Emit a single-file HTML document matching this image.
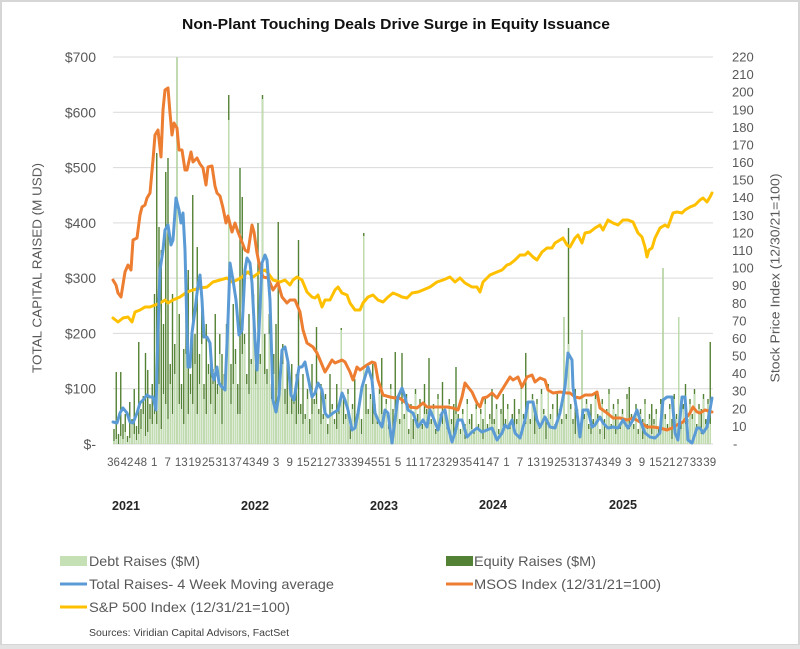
<!DOCTYPE html>
<html><head><meta charset="utf-8"><style>html,body{margin:0;padding:0;background:#fff}svg{display:block}text{font-family:"Liberation Sans",Arial,sans-serif}</style></head>
<body>
<svg width="800" height="649" viewBox="0 0 800 649" xmlns="http://www.w3.org/2000/svg">
<rect x="0" y="0" width="800" height="649" fill="#fff"/>
<rect x="1" y="1" width="798" height="644" fill="none" stroke="#d6d6d6" stroke-width="2"/>
<rect x="0" y="645" width="800" height="4" fill="#e3e3e3"/>
<text x="396" y="29" text-anchor="middle" font-size="15" font-weight="bold" fill="#111" textLength="428" lengthAdjust="spacingAndGlyphs">Non-Plant Touching Deals Drive Surge in Equity Issuance</text>
<g stroke="#d9d9d9" stroke-width="1">
<line x1="113" y1="57" x2="713" y2="57"/><line x1="113" y1="112.3" x2="713" y2="112.3"/><line x1="113" y1="167.6" x2="713" y2="167.6"/><line x1="113" y1="222.9" x2="713" y2="222.9"/><line x1="113" y1="278.1" x2="713" y2="278.1"/><line x1="113" y1="333.4" x2="713" y2="333.4"/><line x1="113" y1="388.7" x2="713" y2="388.7"/><line x1="113" y1="444" x2="713" y2="444"/>
</g>
<path fill="none" stroke="#548235" stroke-width="1.4" d="M114 444v-15m2.25 15v-72m2.25 72v-10m2.25 10v-72m2.25 72v-20m2.25 20v-30m2.25 30v-8m2.25 8v-42m2.25 42v-25m2.25 25v-55m2.25 55v-18m2.25 18v-102m2.25 102v-35m2.25 35v-48m2.25 48v-91m2.25 91v-74m2.25 74v-40m2.25 40v-60m2.25 60v-150m2.25 150v-291m2.25 291v-217m2.25 217v-194m2.25 194v-120m2.25 120v-272m2.25 272v-286m2.25 286v-80m2.25 80v-150m2.25 150v-100m2.25 100v-387m2.25 387v-130m2.25 130v-60m2.25 60v-95m2.25 95v-140m2.25 140v-174m2.25 174v-70m2.25 70v-249m2.25 249v-110m2.25 110v-197m2.25 197v-90m2.25 90v-150m2.25 150v-60m2.25 60v-120m2.25 120v-80m2.25 80v-100m2.25 100v-75m2.25 75v-130m2.25 130v-60m2.25 60v-110m2.25 110v-90m2.25 90v-70m2.25 70v-120m2.25 120v-349m2.25 349v-80m2.25 80v-140m2.25 140v-95m2.25 95v-60m2.25 60v-276m2.25 276v-247m2.25 247v-110m2.25 110v-70m2.25 70v-130m2.25 130v-85m2.25 85v-150m2.25 150v-100m2.25 100v-221m2.25 221v-90m2.25 90v-349m2.25 349v-110m2.25 110v-75m2.25 75v-130m2.25 130v-60m2.25 60v-90m2.25 90v-120m2.25 120v-222m2.25 222v-70m2.25 70v-100m2.25 100v-55m2.25 55v-90m2.25 90v-65m2.25 65v-80m2.25 80v-50m2.25 50v-70m2.25 70v-204m2.25 204v-40m2.25 40v-70m2.25 70v-30m2.25 30v-55m2.25 55v-25m2.25 25v-80m2.25 80v-45m2.25 45v-117m2.25 117v-35m2.25 35v-60m2.25 60v-30m2.25 30v-50m2.25 50v-20m2.25 20v-70m2.25 70v-40m2.25 40v-25m2.25 25v-60m2.25 60v-35m2.25 35v-116m2.25 116v-45m2.25 45v-30m2.25 30v-55m2.25 55v-20m2.25 20v-40m2.25 40v-65m2.25 65v-30m2.25 30v-45m2.25 45v-25m2.25 25v-211m2.25 211v-60m2.25 60v-35m2.25 35v-50m2.25 50v-80m2.25 80v-40m2.25 40v-25m2.25 25v-55m2.25 55v-86m2.25 86v-30m2.25 30v-45m2.25 45v-20m2.25 20v-60m2.25 60v-35m2.25 35v-92m2.25 92v-40m2.25 40v-25m2.25 25v-91m2.25 91v-30m2.25 30v-50m2.25 50v-15m2.25 15v-40m2.25 40v-25m2.25 25v-55m2.25 55v-30m2.25 30v-45m2.25 45v-20m2.25 20v-60m2.25 60v-35m2.25 35v-86m2.25 86v-25m2.25 25v-40m2.25 40v-15m2.25 15v-50m2.25 50v-30m2.25 30v-62m2.25 62v-35m2.25 35v-20m2.25 20v-45m2.25 45v-25m2.25 25v-40m2.25 40v-77m2.25 77v-30m2.25 30v-15m2.25 15v-35m2.25 35v-20m2.25 20v-45m2.25 45v-25m2.25 25v-30m2.25 30v-15m2.25 15v-40m2.25 40v-20m2.25 20v-35m2.25 35v-25m2.25 25v-45m2.25 45v-20m2.25 20v-30m2.25 30v-55m2.25 55v-25m2.25 25v-40m2.25 40v-15m2.25 15v-35m2.25 35v-50m2.25 50v-25m2.25 25v-40m2.25 40v-20m2.25 20v-30m2.25 30v-45m2.25 45v-25m2.25 25v-35m2.25 35v-60m2.25 60v-30m2.25 30v-91m2.25 91v-40m2.25 40v-25m2.25 25v-50m2.25 50v-30m2.25 30v-45m2.25 45v-20m2.25 20v-55m2.25 55v-35m2.25 35v-25m2.25 25v-60m2.25 60v-30m2.25 30v-40m2.25 40v-20m2.25 20v-50m2.25 50v-35m2.25 35v-25m2.25 25v-127m2.25 127v-30m2.25 30v-216m2.25 216v-40m2.25 40v-25m2.25 25v-55m2.25 55v-35m2.25 35v-20m2.25 20v-114m2.25 114v-30m2.25 30v-45m2.25 45v-20m2.25 20v-40m2.25 40v-25m2.25 25v-50m2.25 50v-30m2.25 30v-15m2.25 15v-45m2.25 45v-25m2.25 25v-35m2.25 35v-55m2.25 55v-20m2.25 20v-40m2.25 40v-30m2.25 30v-45m2.25 45v-20m2.25 20v-35m2.25 35v-25m2.25 25v-50m2.25 50v-57m2.25 57v-30m2.25 30v-20m2.25 20v-40m2.25 40v-15m2.25 15v-35m2.25 35v-25m2.25 25v-45m2.25 45v-20m2.25 20v-30m2.25 30v-40m2.25 40v-25m2.25 25v-35m2.25 35v-15m2.25 15v-45m2.25 45v-176m2.25 176v-30m2.25 30v-20m2.25 20v-40m2.25 40v-25m2.25 25v-50m2.25 50v-30m2.25 30v-127m2.25 127v-20m2.25 20v-40m2.25 40v-60m2.25 60v-25m2.25 25v-45m2.25 45v-30m2.25 30v-55m2.25 55v-20m2.25 20v-40m2.25 40v-35m2.25 35v-50m2.25 50v-25m2.25 25v-45m2.25 45v-102"/>
<path fill="none" stroke="#c5e0b4" stroke-width="1.4" d="M114 444v-3m2.25 3v-5m2.25 5m2.25 0v-8m2.25 8v-5m2.25 5v-12m2.25 12v-2m2.25 2v-6m2.25 6v-20m2.25 20v-10m2.25 10v-4m2.25 4v-10m2.25 10v-15m2.25 15v-30m2.25 30v-8m2.25 8v-12m2.25 12v-25m2.25 25v-20m2.25 20v-30m2.25 30v-20m2.25 20v-60m2.25 60v-15m2.25 15v-50m2.25 50v-40m2.25 40v-25m2.25 25v-60m2.25 60v-30m2.25 30v-70m2.25 70v-387m2.25 387v-40m2.25 40v-35m2.25 35v-20m2.25 20v-90m2.25 90v-30m2.25 30v-50m2.25 50v-40m2.25 40v-80m2.25 80v-30m2.25 30v-60m2.25 60v-100m2.25 100v-45m2.25 45v-30m2.25 30v-70m2.25 70v-40m2.25 40v-60m2.25 60v-30m2.25 30v-50m2.25 50v-90m2.25 90v-20m2.25 20v-55m2.25 55v-100m2.25 100v-324m2.25 324v-40m2.25 40v-60m2.25 60v-80m2.25 80v-30m2.25 30v-30m2.25 30v-90m2.25 90v-100m2.25 100v-60m2.25 60v-50m2.25 50v-80m2.25 80v-120m2.25 120v-60m2.25 60v-90m2.25 90v-80m2.25 80v-345m2.25 345v-70m2.25 70v-60m2.25 60v-110m2.25 110v-45m2.25 45v-70m2.25 70v-40m2.25 40v-50m2.25 50v-55m2.25 55v-80m2.25 80v-40m2.25 40v-30m2.25 30v-55m2.25 55v-30m2.25 30v-40m2.25 40v-20m2.25 20v-30m2.25 30v-30m2.25 30v-20m2.25 20v-25m2.25 25v-45m2.25 45v-10m2.25 10v-30m2.25 30v-40m2.25 40v-40m2.25 40v-30m2.25 30v-20m2.25 20v-25m2.25 25v-45m2.25 45v-10m2.25 10v-30m2.25 30v-35m2.25 35v-20m2.25 20v-15m2.25 15v-30m2.25 30v-114m2.25 114v-20m2.25 20v-25m2.25 25v-50m2.25 50v-5m2.25 5v-35m2.25 35v-15m2.25 15v-25m2.25 25v-40m2.25 40v-10m2.25 10v-208m2.25 208v-30m2.25 30v-30m2.25 30v-45m2.25 45v-20m2.25 20v-35m2.25 35v-20m2.25 20v-50m2.25 50v-30m2.25 30v-25m2.25 25v-40m2.25 40v-15m2.25 15v-55m2.25 55v-10m2.25 10v-20m2.25 20v-35m2.25 35v-20m2.25 20v-40m2.25 40v-25m2.25 25v-45m2.25 45v-10m2.25 10v-35m2.25 35v-5m2.25 5v-50m2.25 50v-20m2.25 20v-40m2.25 40v-15m2.25 15v-30m2.25 30v-30m2.25 30v-20m2.25 20v-20m2.25 20v-35m2.25 35v-10m2.25 10v-45m2.25 45v-25m2.25 25v-20m2.25 20v-30m2.25 30v-15m2.25 15v-40m2.25 40v-20m2.25 20v-10m2.25 10v-30m2.25 30v-25m2.25 25v-10m2.25 10v-30m2.25 30v-5m2.25 5v-40m2.25 40v-20m2.25 20v-15m2.25 15v-10m2.25 10v-35m2.25 35v-15m2.25 15v-30m2.25 30v-5m2.25 5v-40m2.25 40v-15m2.25 15v-25m2.25 25v-20m2.25 20v-20m2.25 20v-35m2.25 35v-10m2.25 10v-30m2.25 30v-15m2.25 15v-20m2.25 20v-35m2.25 35v-15m2.25 15v-25m2.25 25v-10m2.25 10v-20m2.25 20v-30m2.25 30v-55m2.25 55v-25m2.25 25v-20m2.25 20v-35m2.25 35v-20m2.25 20v-45m2.25 45v-10m2.25 10v-40m2.25 40v-15m2.25 15v-50m2.25 50v-30m2.25 30v-5m2.25 5v-55m2.25 55v-25m2.25 25v-35m2.25 35v-15m2.25 15v-20m2.25 20v-30m2.25 30v-20m2.25 20v-127m2.25 127v-25m2.25 25v-100m2.25 100v-35m2.25 35v-20m2.25 20v-10m2.25 10v-30m2.25 30v-15m2.25 15v-114m2.25 114v-25m2.25 25v-40m2.25 40v-15m2.25 15v-10m2.25 10v-20m2.25 20v-45m2.25 45v-25m2.25 25v-10m2.25 10v-40m2.25 40v-5m2.25 5v-30m2.25 30v-50m2.25 50v-15m2.25 15v-35m2.25 35v-10m2.25 10v-40m2.25 40v-15m2.25 15v-30m2.25 30v-20m2.25 20v-45m2.25 45v-15m2.25 15v-25m2.25 25v-15m2.25 15v-35m2.25 35v-10m2.25 10v-30m2.25 30v-5m2.25 5v-40m2.25 40v-15m2.25 15v-25m2.25 25v-10m2.25 10v-20m2.25 20v-30m2.25 30v-10m2.25 10v-40m2.25 40v-176m2.25 176v-25m2.25 25v-15m2.25 15v-35m2.25 35v-5m2.25 5v-45m2.25 45v-25m2.25 25v-127m2.25 127v-15m2.25 15v-35m2.25 35v-20m2.25 20v-20m2.25 20v-40m2.25 40v-25m2.25 25v-50m2.25 50v-15m2.25 15v-35m2.25 35v-10m2.25 10v-45m2.25 45v-20m2.25 20v-40m2.25 40v-20"/>
<g fill="none" stroke-width="3" stroke-linejoin="round" stroke-linecap="round">
<polyline stroke="#ffc000" points="113,318 118,322 123,318 128,317 132,322 135,312 140,310 145,307 150,307 155,305 160,303 165,300 168,303 173,300 180,297 187,292 193,290 200,288 207,287 213,282 220,280 227,278 232,282 237,280 242,277 248,272 253,277 260,272 265,270 268,273 273,280 280,282 285,280 290,285 293,280 297,277 302,280 307,292 312,297 315,298 318,295 322,307 325,300 330,300 335,290 338,287 342,293 347,295 350,303 355,310 360,310 363,303 368,297 373,295 378,300 383,302 388,297 393,293 398,295 402,297 407,298 412,293 418,292 423,290 430,287 437,282 443,280 450,277 455,282 460,278 465,283 472,287 477,287 480,292 483,282 490,275 497,272 502,270 507,265 510,264 515,260 520,255 525,255 528,252 533,257 537,260 542,252 547,248 552,248 555,243 560,240 563,238 567,245 570,247 575,238 578,235 582,243 585,233 590,232 595,228 600,225 603,230 608,220 613,223 618,225 623,220 628,220 633,222 638,233 642,237 645,247 647,257 649,250 652,248 655,238 660,228 665,225 668,227 673,213 677,212 682,213 685,210 690,207 695,205 700,200 703,198 707,202 710,197 712,193"/>
<polyline stroke="#ed7d31" points="113,280 116,285 118,293 121,297 125,272 128,265 131,270 133,240 137,238 140,215 142,207 145,205 147,198 150,193 153,160 155,135 158,130 161,157 163,110 165,90 168,88 170,113 172,135 174,123 177,128 179,150 182,150 185,170 187,170 191,152 193,162 197,158 200,164 203,168 206,185 208,167 212,166 215,186 217,193 220,196 223,208 226,223 228,216 232,232 235,223 238,232 242,242 245,250 248,252 252,225 254,232 257,253 260,268 263,277 268,278 273,290 278,283 282,297 287,303 290,300 295,300 300,312 303,330 307,343 313,347 317,353 320,360 325,372 328,367 332,360 335,363 342,360 345,362 350,372 353,380 357,367 360,370 367,365 372,362 375,363 378,380 383,395 390,397 395,398 398,397 405,402 410,407 417,408 423,403 427,407 433,407 440,407 447,407 453,408 458,410 462,397 465,383 468,387 472,392 477,403 480,407 483,398 487,397 492,393 497,398 500,393 505,385 510,377 513,380 518,377 522,387 527,377 532,375 535,382 540,378 545,380 548,390 553,393 560,392 567,393 570,393 575,397 580,398 585,395 592,395 597,392 600,408 607,413 613,418 620,418 627,420 633,418 640,422 647,427 653,427 660,428 667,430 672,428 677,425 683,422 690,413 693,407 697,412 700,413 705,410 712,412"/>
<polyline stroke="#5b9bd5" points="113,422 117,423 120,413 123,408 127,413 130,422 133,423 137,413 140,403 143,400 147,395 150,397 153,397 156,410 158,330 160,270 163,250 165,230 168,225 171,245 173,240 176,198 179,210 181,223 183,213 185,250 187,330 188,367 190,367 192,333 195,310 198,285 200,275 202,300 204,337 207,337 210,343 212,373 214,380 217,367 219,383 222,387 225,390 228,320 230,263 233,280 236,300 239,335 242,330 245,270 247,258 250,263 252,283 255,340 257,370 259,330 262,263 265,255 267,260 270,300 273,400 276,412 279,395 282,350 285,347 288,362 291,395 294,400 297,380 299,367 302,367 305,362 308,377 312,397 315,393 318,383 322,390 325,413 328,417 333,413 338,410 342,393 345,400 348,410 352,430 355,428 358,413 362,387 365,377 368,367 372,380 375,413 378,420 382,427 385,410 388,413 392,443 395,420 398,397 402,388 405,397 408,410 413,413 418,427 423,420 427,427 430,410 433,417 438,430 442,413 445,410 448,427 452,442 455,433 458,420 462,420 467,437 472,432 477,428 482,432 487,430 492,428 497,440 502,433 505,425 508,428 512,420 515,433 520,438 525,420 528,402 533,402 537,420 540,427 545,417 550,427 555,428 560,413 565,387 568,353 572,360 573,387 577,413 580,437 583,410 588,410 592,427 595,425 600,417 603,423 608,428 613,427 618,428 623,420 628,428 633,420 637,410 640,420 645,433 650,437 655,438 660,433 663,400 667,397 672,397 675,433 678,440 682,397 685,397 688,440 692,443 697,428 700,428 703,433 707,427 712,398"/>
</g>
<g font-size="14" fill="#595959" text-anchor="end">
<text x="96" y="62">$700</text><text x="96" y="117.3">$600</text><text x="96" y="172.6">$500</text><text x="96" y="227.9">$400</text><text x="96" y="283.1">$300</text><text x="96" y="338.4">$200</text><text x="96" y="393.7">$100</text><text x="96" y="449">$-</text>
</g>
<g font-size="13" fill="#595959">
<text x="732" y="61.5">220</text><text x="732" y="79.1">210</text><text x="732" y="96.7">200</text><text x="732" y="114.3">190</text><text x="732" y="131.9">180</text><text x="732" y="149.5">170</text><text x="732" y="167.1">160</text><text x="732" y="184.7">150</text><text x="732" y="202.2">140</text><text x="732" y="219.8">130</text><text x="732" y="237.4">120</text><text x="732" y="255">110</text><text x="732" y="272.6">100</text><text x="732" y="290.2">90</text><text x="732" y="307.8">80</text><text x="732" y="325.4">70</text><text x="732" y="343">60</text><text x="732" y="360.5">50</text><text x="732" y="378.1">40</text><text x="732" y="395.7">30</text><text x="732" y="413.3">20</text><text x="732" y="430.9">10</text><text x="733" y="448.5">-</text>
</g>
<text transform="translate(41.5,268) rotate(-90)" text-anchor="middle" font-size="13" fill="#595959" textLength="210" lengthAdjust="spacingAndGlyphs">TOTAL  CAPITAL RAISED (M USD)</text>
<text transform="translate(779.5,278) rotate(-90)" text-anchor="middle" font-size="13" fill="#595959" textLength="209" lengthAdjust="spacingAndGlyphs">Stock Price Index (12/30/21=100)</text>
<text font-size="11.5" fill="#595959" text-anchor="middle" y="466"><tspan x="113.5">36</tspan><tspan x="127.05">42</tspan><tspan x="140.6">48</tspan><tspan x="154.15">1</tspan><tspan x="167.7">7</tspan><tspan x="181.25">13</tspan><tspan x="194.8">19</tspan><tspan x="208.35">25</tspan><tspan x="221.9">31</tspan><tspan x="235.45">37</tspan><tspan x="249">43</tspan><tspan x="262.55">49</tspan><tspan x="276.1">3</tspan><tspan x="289.65">9</tspan><tspan x="303.2">15</tspan><tspan x="316.75">21</tspan><tspan x="330.3">27</tspan><tspan x="343.85">33</tspan><tspan x="357.4">39</tspan><tspan x="370.95">45</tspan><tspan x="384.5">51</tspan><tspan x="398.05">5</tspan><tspan x="411.6">11</tspan><tspan x="425.15">17</tspan><tspan x="438.7">23</tspan><tspan x="452.25">29</tspan><tspan x="465.8">35</tspan><tspan x="479.35">41</tspan><tspan x="492.9">47</tspan><tspan x="506.45">1</tspan><tspan x="520">7</tspan><tspan x="533.55">13</tspan><tspan x="547.1">19</tspan><tspan x="560.65">25</tspan><tspan x="574.2">31</tspan><tspan x="587.75">37</tspan><tspan x="601.3">43</tspan><tspan x="614.85">49</tspan><tspan x="628.4">3</tspan><tspan x="641.95">9</tspan><tspan x="655.5">15</tspan><tspan x="669.05">21</tspan><tspan x="682.6">27</tspan><tspan x="696.15">33</tspan><tspan x="709.7">39</tspan></text>
<g font-size="13" font-weight="bold" fill="#262626">
<text x="112" y="510" textLength="28" lengthAdjust="spacingAndGlyphs">2021</text><text x="241" y="510" textLength="28" lengthAdjust="spacingAndGlyphs">2022</text><text x="370" y="510" textLength="28" lengthAdjust="spacingAndGlyphs">2023</text><text x="479" y="509" textLength="28" lengthAdjust="spacingAndGlyphs">2024</text><text x="609" y="509" textLength="28" lengthAdjust="spacingAndGlyphs">2025</text>
</g>
<rect x="60" y="556" width="27" height="10" fill="#c5e0b4"/>
<rect x="446" y="556" width="27" height="10" fill="#548235"/>
<line x1="60" y1="584" x2="87" y2="584" stroke="#5b9bd5" stroke-width="3"/>
<line x1="446" y1="584" x2="473" y2="584" stroke="#ed7d31" stroke-width="3"/>
<line x1="60" y1="607" x2="87" y2="607" stroke="#ffc000" stroke-width="3"/>
<g font-size="14" fill="#595959">
<text x="89" y="566" textLength="111" lengthAdjust="spacingAndGlyphs">Debt Raises ($M)</text>
<text x="474" y="566" textLength="122" lengthAdjust="spacingAndGlyphs">Equity Raises ($M)</text>
<text x="89" y="589" textLength="245" lengthAdjust="spacingAndGlyphs">Total Raises- 4 Week Moving average</text>
<text x="474" y="589" textLength="187" lengthAdjust="spacingAndGlyphs">MSOS Index (12/31/21=100)</text>
<text x="89" y="612" textLength="201" lengthAdjust="spacingAndGlyphs">S&amp;P 500 Index (12/31/21=100)</text>
</g>
<text x="89" y="636" font-size="10" fill="#404040" textLength="200" lengthAdjust="spacingAndGlyphs">Sources: Viridian Capital Advisors, FactSet</text>
</svg>
</body></html>
